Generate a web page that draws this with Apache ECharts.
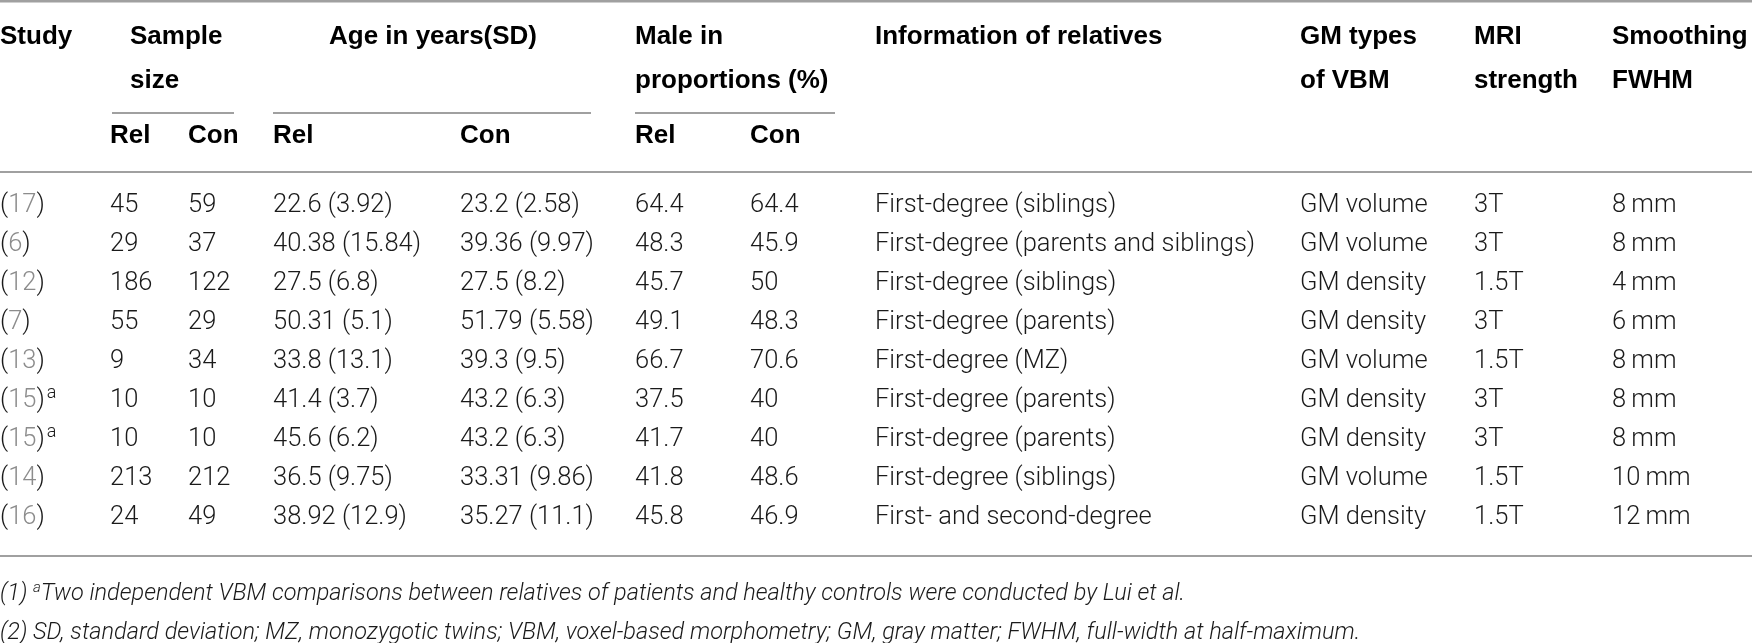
<!DOCTYPE html>
<html>
<head>
<meta charset="utf-8">
<script src="https://cdn.jsdelivr.net/npm/echarts@6/dist/echarts.min.js"></script>
<style>
  html, body { margin: 0; padding: 0; background: #fff; }
  #table { width: 1752px; height: 643px; }
</style>
</head>
<body>
<div id="table"></div>
<script>
// table data
const studyRefs = ['17', '6', '12', '7', '13', '15', '15', '14', '16'];
const studyNotes = ['', '', '', '', '', 'a', 'a', '', ''];
const sampleRel = [45, 29, 186, 55, 9, 10, 10, 213, 24];
const sampleCon = [59, 37, 122, 29, 34, 10, 10, 212, 49];
const ageRelMean = [22.6, 40.38, 27.5, 50.31, 33.8, 41.4, 45.6, 36.5, 38.92];
const ageRelSD = [3.92, 15.84, 6.8, 5.1, 13.1, 3.7, 6.2, 9.75, 12.9];
const ageConMean = [23.2, 39.36, 27.5, 51.79, 39.3, 43.2, 43.2, 33.31, 35.27];
const ageConSD = [2.58, 9.97, 8.2, 5.58, 9.5, 6.3, 6.3, 9.86, 11.1];
const maleRel = [64.4, 48.3, 45.7, 49.1, 66.7, 37.5, 41.7, 41.8, 45.8];
const maleCon = [64.4, 45.9, 50, 48.3, 70.6, 40, 40, 48.6, 46.9];
const relatives = [
  'First-degree (siblings)',
  'First-degree (parents and siblings)',
  'First-degree (siblings)',
  'First-degree (parents)',
  'First-degree (MZ)',
  'First-degree (parents)',
  'First-degree (parents)',
  'First-degree (siblings)',
  'First- and second-degree'
];
const gmTypes = ['GM volume', 'GM volume', 'GM density', 'GM density', 'GM volume', 'GM density', 'GM density', 'GM volume', 'GM density'];
const mriTesla = [3, 3, 1.5, 3, 1.5, 3, 3, 1.5, 1.5];
const fwhmMm = [8, 8, 4, 6, 8, 8, 8, 10, 12];
const footnotes = [
  '(1) {sup|a}Two independent VBM comparisons between relatives of patients and healthy controls were conducted by Lui et al.',
  '(2) SD, standard deviation; MZ, monozygotic twins; VBM, voxel-based morphometry; GM, gray matter; FWHM, full-width at half-maximum.'
];

// layout: left edge of every column
const colX = [0, 110, 188, 273, 460, 635, 750, 875, 1300, 1474, 1612];

const bodyFont = 'Roboto, "Liberation Sans", sans-serif';
const headFont = '"Liberation Sans", Arial, sans-serif';

const rowIdx = studyRefs.map((s, i) => String(i));

// one entry per cell
const cells = [];
studyRefs.forEach((ref, i) => {
  const texts = [
    '({ref|' + ref + '})' + (studyNotes[i] ? '{sup|' + studyNotes[i] + '}' : ''),
    String(sampleRel[i]),
    String(sampleCon[i]),
    ageRelMean[i] + ' (' + ageRelSD[i] + ')',
    ageConMean[i] + ' (' + ageConSD[i] + ')',
    String(maleRel[i]),
    String(maleCon[i]),
    relatives[i],
    gmTypes[i],
    mriTesla[i] + 'T',
    fwhmMm[i] + '\u2009mm'
  ];
  texts.forEach((t, c) => cells.push({ value: [colX[c], i], text: t }));
});

function head(text, x, y, align) {
  return {
    type: 'text', x: x, y: y,
    style: {
      text: text, fill: '#000', fontSize: 26, fontWeight: 'bold', fontFamily: headFont,
      align: align || 'left', verticalAlign: 'middle'
    }
  };
}
function rule(x1, x2, y, w) {
  return {
    type: 'line',
    shape: { x1: x1, y1: y, x2: x2, y2: y },
    style: { stroke: '#a0a0a0', lineWidth: w || 2 }
  };
}

const chart = echarts.init(document.getElementById('table'));
chart.setOption({
  animation: false,
  grid: { left: 0, right: 0, top: 186, height: 351 },
  xAxis: { type: 'value', min: 0, max: 1752, show: false },
  yAxis: { type: 'category', data: rowIdx, inverse: true, show: false },
  series: [{
    type: 'custom',
    data: cells,
    renderItem: function (params, api) {
      const p = api.coord([api.value(0), api.value(1)]);
      return {
        type: 'text',
        x: p[0], y: p[1],
        style: {
          text: cells[params.dataIndex].text,
          fill: '#1a1a1a', fontSize: 25.5, fontWeight: 300, fontFamily: bodyFont,
          align: 'left', verticalAlign: 'middle',
          rich: {
            ref: { fill: '#8c8c8c', fontSize: 25.5, fontWeight: 300, fontFamily: bodyFont },
            sup: { fill: '#1a1a1a', fontSize: 18, fontWeight: 300, fontFamily: bodyFont, padding: [0, 0, 14, 2] }
          }
        }
      };
    }
  }],
  graphic: [
    rule(0, 1752, 1, 3),
    head('Study', 0, 37),
    head('Sample', 130, 37),
    head('size', 130, 81),
    head('Age in years(SD)', 433, 37, 'center'),
    head('Male in', 635, 37),
    head('proportions (%)', 635, 81),
    head('Information of relatives', 875, 37),
    head('GM types', 1300, 37),
    head('of VBM', 1300, 81),
    head('MRI', 1474, 37),
    head('strength', 1474, 81),
    head('Smoothing', 1612, 37),
    head('FWHM', 1612, 81),
    rule(112, 234, 113),
    rule(273, 591, 113),
    rule(635, 835, 113),
    head('Rel', colX[1], 136),
    head('Con', colX[2], 136),
    head('Rel', colX[3], 136),
    head('Con', colX[4], 136),
    head('Rel', colX[5], 136),
    head('Con', colX[6], 136),
    rule(0, 1752, 172),
    rule(0, 1752, 556),
    ...footnotes.map((t, i) => ({
      type: 'text', x: 0, y: 594 + i * 39,
      style: {
        text: t, fill: '#1a1a1a', fontSize: 23.5, fontStyle: 'italic', fontWeight: 300, fontFamily: bodyFont,
        align: 'left', verticalAlign: 'middle',
        rich: { sup: { fontSize: 15, fontStyle: 'italic', fontWeight: 300, fontFamily: bodyFont, fill: '#1a1a1a', padding: [0, 0, 12, 0] } }
      }
    }))
  ]
});
</script>
</body>
</html>
